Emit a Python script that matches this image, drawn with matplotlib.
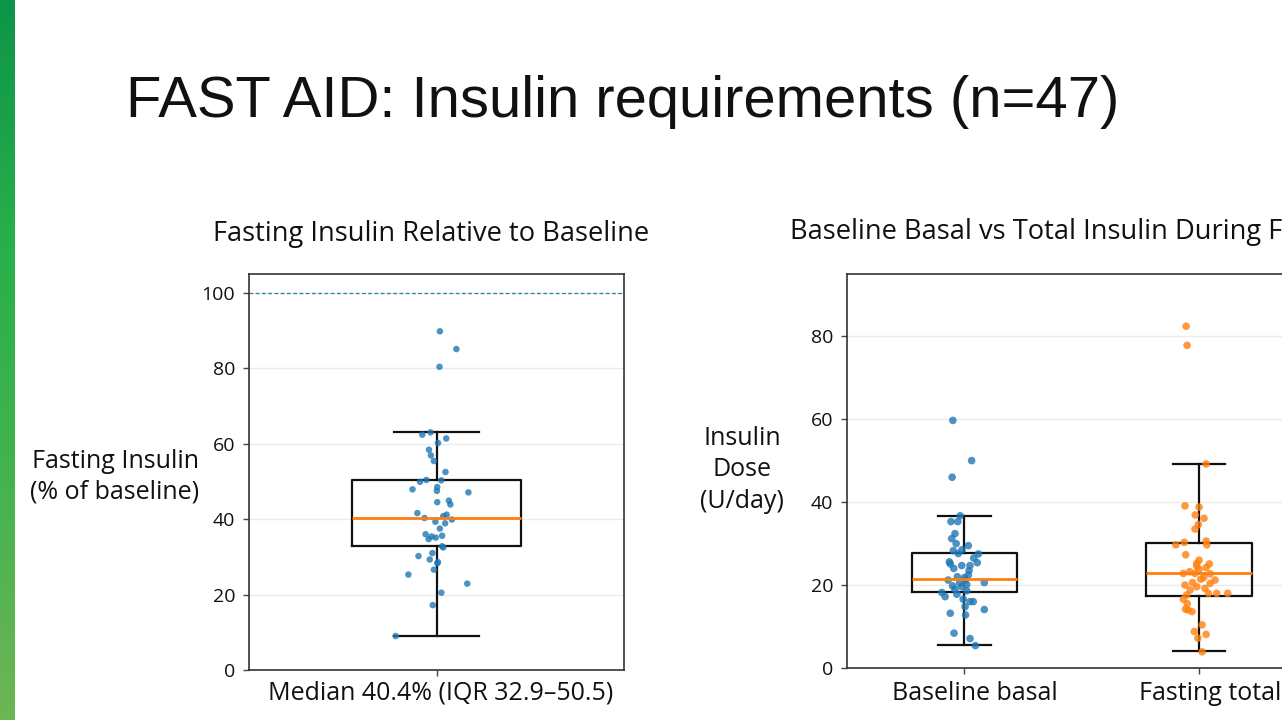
import matplotlib
matplotlib.use("Agg")
import matplotlib.pyplot as plt
import numpy as np
from matplotlib.colors import LinearSegmentedColormap
from matplotlib.transforms import ScaledTranslation

plt.rcParams['font.family'] = ['Open Sans', 'DejaVu Sans']

# ---------------- data ----------------
title = "FAST AID: Insulin requirements (n=47)"
left_title = "Fasting Insulin Relative to Baseline"
right_title = "Baseline Basal vs Total Insulin During Fasting"
left_ylabel = "Fasting Insulin\n(% of baseline)"
right_ylabel = "Insulin\nDose\n(U/day)"
left_xlabel = "Median 40.4% (IQR 32.9\u201350.5)"
right_categories = ["Baseline basal", "Fasting total"]

left_yticks = [0, 20, 40, 60, 80, 100]
right_yticks = [0, 20, 40, 60, 80]

# percent of baseline (left panel)
left_vals = [89.8, 85.1, 80.4, 62.4, 63.0, 61.4, 60.2, 58.4, 56.9, 55.4, 52.5, 50.4,
             49.9, 50.3, 47.9, 48.5, 47.5, 47.1, 44.5, 44.9, 43.9, 41.6, 41.2, 40.3,
             39.9, 39.3, 38.9, 37.5, 36.0, 35.4, 34.7, 35.1, 35.6, 32.8, 32.5, 31.0,
             30.2, 29.3, 28.6, 28.3, 26.6, 25.3, 22.9, 20.5, 17.2, 9.0, 40.8]
left_jit = [0.009, 0.053, 0.008, -0.038, -0.016, 0.026, 0.004, -0.020, -0.015, -0.007,
            0.024, -0.027, -0.044, 0.013, -0.064, 0.002, 0.001, 0.085, 0.002, 0.033,
            0.037, -0.051, 0.027, -0.032, 0.041, -0.003, 0.023, 0.009, -0.029, -0.013,
            -0.021, -0.002, 0.015, 0.015, 0.018, -0.011, -0.048, -0.018, 0.004, 0.002,
            -0.007, -0.075, 0.082, 0.013, -0.010, -0.109, 0.018]
left_stats = dict(med=40.4, q1=32.9, q3=50.5, whislo=9.0, whishi=63.1)

# U/day (right panel)
base_vals = [59.7, 50.0, 46.0, 36.7, 35.3, 35.3, 32.4, 31.2, 29.5, 28.3, 27.6, 27.5,
             25.6, 25.1, 24.7, 24.7, 25.4, 22.4, 21.2, 21.2, 20.6, 19.0, 19.6, 20.1,
             18.2, 17.2, 17.8, 16.0, 16.0, 14.8, 14.1, 13.2, 12.8, 8.4, 7.1, 5.4,
             20.5, 21.8, 23.5, 26.5, 28.5, 19.8, 22.0, 18.6, 24.0, 30.0, 16.6]
base_jit = [-0.049, 0.031, -0.052, -0.018, -0.057, -0.028, -0.040, -0.054, 0.017, -0.047,
            -0.026, 0.060, -0.064, -0.060, -0.011, 0.024, 0.055, 0.017, -0.069, 0.003,
            0.085, -0.040, -0.011, 0.010, -0.096, -0.082, -0.032, 0.024, 0.038, 0.003,
            0.085, -0.060, 0.005, -0.044, 0.024, 0.047,
            -0.02, 0.0, 0.02, 0.04, -0.01, -0.05, -0.03, 0.01, -0.045, -0.035, -0.005]
fast_vals = [82.4, 77.8, 49.2, 39.1, 38.8, 36.9, 36.1, 34.6, 33.5, 29.7, 30.3, 30.6,
             29.7, 27.3, 24.6, 25.1, 23.8, 22.8, 22.8, 22.7, 21.4, 20.6, 21.2, 20.4,
             19.6, 18.8, 18.0, 18.0, 18.0, 17.6, 16.6, 14.2, 13.6, 14.0, 10.4, 8.8,
             8.1, 3.9, 25.2, 21.8, 23.2, 19.2, 26.0, 7.2, 15.5, 24.2, 20.0]
fast_jit = [-0.055, -0.051, 0.030, -0.060, 0.0, -0.016, 0.021, -0.003, -0.017, -0.099,
            -0.063, 0.030, 0.033, -0.057, -0.010, 0.044, 0.0, -0.067, -0.018, 0.047,
            0.007, -0.028, 0.068, 0.047, -0.010, -0.038, 0.040, 0.075, 0.122, -0.053,
            -0.067, -0.058, -0.030, -0.047, 0.013, -0.020, 0.030, 0.013, -0.01,
            0.02, -0.04, 0.025, 0.0, -0.005, -0.05, 0.03, -0.06]
base_stats = dict(med=21.4, q1=18.3, q3=27.7, whislo=5.6, whishi=36.6)
fast_stats = dict(med=22.8, q1=17.3, q3=30.1, whislo=4.0, whishi=49.3)

# ---------------- figure ----------------
W, H = 1282, 720
fig = plt.figure(figsize=(W / 100, H / 100), dpi=100)
fig.patch.set_facecolor('white')

def fx(px):
    return px / W

def fy(py):
    return 1 - py / H

# green decorative strip on the left
gax = fig.add_axes([0, 0, fx(15), 1])
cmap = LinearSegmentedColormap.from_list('g', ['#0e9448', '#27b04a', '#44b34e', '#6db654'])
gax.imshow(np.linspace(0, 1, 256).reshape(-1, 1), aspect='auto', cmap=cmap,
           extent=[0, 1, 0, 1], origin='upper')
gax.axis('off')

BLUE = '#1f77b4'
ORANGE = '#ff7f0e'
TICK_FS = 14
LABEL_FS = 18

def style_axes(ax):
    for s in ax.spines.values():
        s.set_color('#333333')
        s.set_linewidth(1.2)
    ax.tick_params(axis='both', length=4, width=1, color='#444444',
                   labelsize=TICK_FS, labelcolor='#111111', pad=6)
    ax.yaxis.grid(True, color='#ebebeb', linewidth=1.0)
    ax.set_axisbelow(True)

def draw_box(ax, stats, pos):
    st = dict(stats)
    st['fliers'] = []
    ax.bxp([st], positions=[pos], widths=0.45, showfliers=False,
           boxprops=dict(color='#111111', linewidth=1.6),
           whiskerprops=dict(color='#111111', linewidth=1.6),
           capprops=dict(color='#111111', linewidth=1.6),
           medianprops=dict(color=ORANGE, linewidth=2.0, zorder=5),
           manage_ticks=False, zorder=2)

# ---- left panel ----
axL = fig.add_axes([fx(249), fy(670), fx(624 - 249), (670 - 274) / H])
style_axes(axL)
axL.set_xlim(-0.5, 0.5)
axL.set_ylim(0, 105)
axL.set_yticks(left_yticks)
axL.set_xticks([0])
axL.set_xticklabels([''])
axL.axhline(100, color='#2b7fa3', linewidth=0.9, linestyle=(0, (3, 2)), zorder=1)
draw_box(axL, left_stats, 0)
axL.scatter(np.array(left_jit), left_vals, s=22, color=BLUE, alpha=0.8,
            edgecolors='none', zorder=4)

# ---- right panel (extends past the right edge of the slide) ----
axR = fig.add_axes([fx(847), fy(668), fx(1316.4 - 847), (668 - 274) / H])
style_axes(axR)
axR.set_xlim(-0.5, 1.5)
axR.set_ylim(0, 95)
axR.set_yticks(right_yticks)
axR.set_xticks([0, 1])
axR.set_xticklabels(right_categories, fontsize=LABEL_FS)
axR.tick_params(axis='x', pad=5)
shift = ScaledTranslation(0.11, 0, fig.dpi_scale_trans)
for lab in axR.get_xticklabels():
    lab.set_transform(lab.get_transform() + shift)
draw_box(axR, base_stats, 0)
draw_box(axR, fast_stats, 1)
axR.scatter(np.array(base_jit) + 0, base_vals, s=30, color=BLUE, alpha=0.8,
            edgecolors='none', zorder=4)
axR.scatter(np.array(fast_jit) + 1, fast_vals, s=30, color=ORANGE, alpha=0.8,
            edgecolors='none', zorder=4)

# ---- texts ----
fig.text(fx(126), fy(102), title, fontsize=41.8, ha='left', va='center', color='#111111',
         family=['Liberation Sans', 'DejaVu Sans'])
fig.text(fx(431), fy(234), left_title, fontsize=19.6, ha='center', va='center', color='#111111')
fig.text(fx(790), fy(232), right_title, fontsize=19.6, ha='left', va='center', color='#111111')
fig.text(fx(115), fy(477), left_ylabel, fontsize=LABEL_FS, ha='center', va='center',
         linespacing=1.28, color='#111111')
fig.text(fx(742), fy(470), right_ylabel, fontsize=LABEL_FS, ha='center', va='center',
         linespacing=1.33, color='#111111')
fig.text(fx(441), fy(693), left_xlabel, fontsize=LABEL_FS, ha='center', va='center',
         color='#111111')

fig.savefig('out.png', dpi=100)
